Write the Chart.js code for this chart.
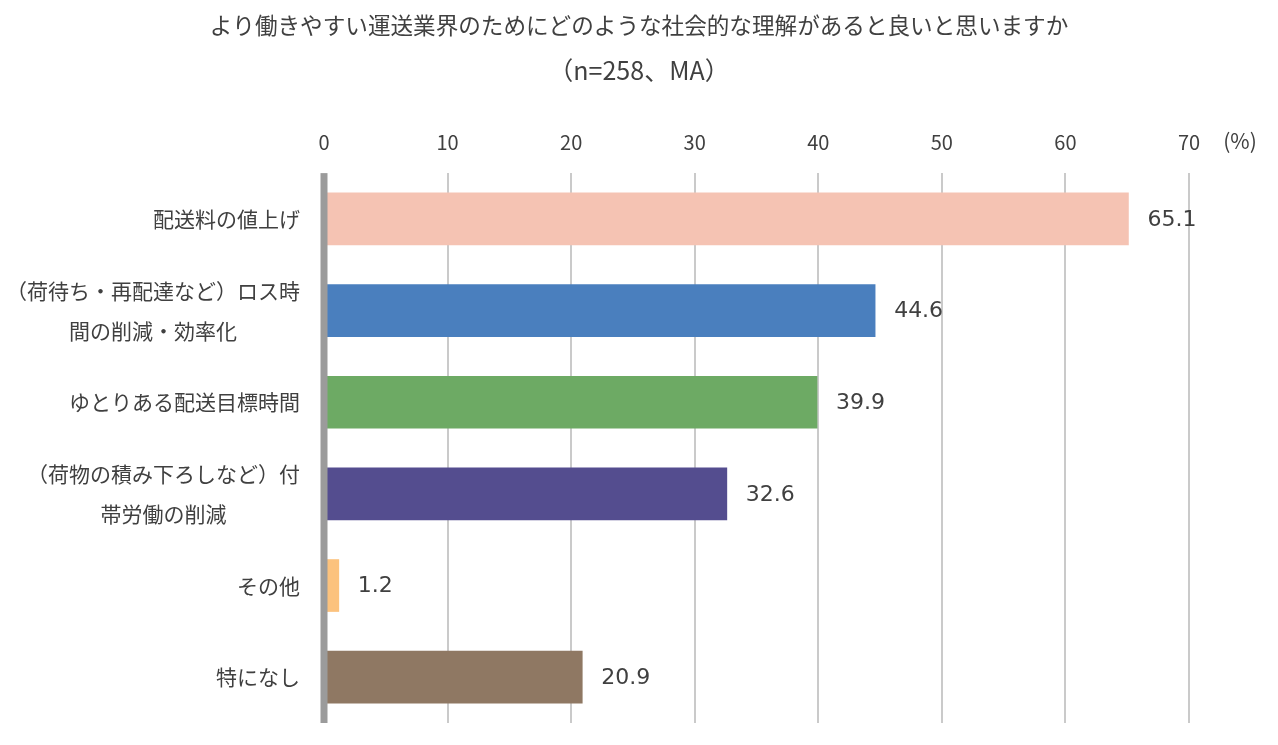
<!DOCTYPE html>
<html lang="ja">
<head>
<meta charset="utf-8">
<title>より働きやすい運送業界のために</title>
<script src="https://cdn.jsdelivr.net/npm/chart.js@4.4.1/dist/chart.umd.min.js"></script>
<style>
  html, body { margin: 0; padding: 0; background: #fff; }
</style>
</head>
<body>
<canvas id="chart" width="1278" height="745"></canvas>
<script>
// データ
const categories = [
  '配送料の値上げ',
  ['（荷待ち・再配達など）ロス時', '間の削減・効率化'],
  'ゆとりある配送目標時間',
  ['（荷物の積み下ろしなど）付', '帯労働の削減'],
  'その他',
  '特になし'
];
const values = [65.1, 44.6, 39.9, 32.6, 1.2, 20.9];
const xTickValues = [0, 10, 20, 30, 40, 50, 60, 70];
const titleText = 'より働きやすい運送業界のためにどのような社会的な理解があると良いと思いますか';
const subtitleText = '（n=258、MA）';
const unitLabel = '(%)';

const barColors = ['#F5C3B3', '#4A7FBE', '#6DAA64', '#544D8F', '#FCC27D', '#8F7863'];
const textColor = '#404040';
const jpFont = '"Noto Sans CJK JP", "Noto Sans", sans-serif';

// 左側のカテゴリ名（複数行は中央揃え、ブロックは右揃え）
const yLabelPlugin = {
  id: 'yLabels',
  afterDraw(chart) {
    const ctx = chart.ctx;
    const yScale = chart.scales.y;
    const right = chart.chartArea.left - 24;
    ctx.save();
    ctx.font = '21px ' + jpFont;
    ctx.fillStyle = textColor;
    ctx.textAlign = 'center';
    ctx.textBaseline = 'middle';
    categories.forEach((label, i) => {
      const lines = Array.isArray(label) ? label : [label];
      const widest = Math.max(...lines.map(l => ctx.measureText(l).width));
      const yc = yScale.getPixelForTick(i);
      lines.forEach((line, j) => {
        ctx.fillText(line, right - widest / 2, yc + (j - (lines.length - 1) / 2) * 40);
      });
    });
    ctx.restore();
  }
};

// 0の軸線と数値ラベル
const overlayPlugin = {
  id: 'overlay',
  afterDatasetsDraw(chart) {
    const ctx = chart.ctx;
    const area = chart.chartArea;
    const xScale = chart.scales.x;
    const x0 = xScale.getPixelForValue(0);
    ctx.save();
    ctx.fillStyle = '#9b9b9b';
    ctx.fillRect(x0 - 3.5, area.top, 7, area.bottom - area.top);

    ctx.font = '22px "DejaVu Sans", sans-serif';
    ctx.fillStyle = textColor;
    ctx.textAlign = 'left';
    ctx.textBaseline = 'middle';
    const meta = chart.getDatasetMeta(0);
    meta.data.forEach((bar, i) => {
      ctx.fillText(values[i].toFixed(1), bar.x + 19, bar.y + 1);
    });

    ctx.font = '21px ' + jpFont;
    ctx.textAlign = 'center';
    ctx.fillText(unitLabel, xScale.right + 51, 141);
    ctx.restore();
  }
};

new Chart(document.getElementById('chart'), {
  type: 'bar',
  data: {
    labels: categories,
    datasets: [{
      data: values,
      backgroundColor: barColors,
      borderWidth: 0,
      barThickness: 52
    }]
  },
  options: {
    indexAxis: 'y',
    responsive: false,
    animation: false,
    devicePixelRatio: 1,
    layout: { padding: { left: 89, right: 89, top: 0, bottom: 22 } },
    plugins: {
      legend: { display: false },
      tooltip: { enabled: false },
      title: {
        display: true,
        text: titleText,
        color: textColor,
        font: { family: jpFont, size: 22.6, weight: 'normal', lineHeight: 1.2 },
        padding: { top: 11.5, bottom: 10 }
      },
      subtitle: {
        display: true,
        text: subtitleText,
        color: textColor,
        font: { family: jpFont, size: 25, weight: 'normal', lineHeight: 1.2 },
        padding: { top: 6.5, bottom: 27.2 }
      }
    },
    scales: {
      x: {
        position: 'top',
        min: 0,
        max: 70,
        afterBuildTicks(scale) {
          scale.ticks = xTickValues.map(v => ({ value: v }));
        },
        afterFit(scale) { scale.height = 60.8; },
        ticks: {
          color: textColor,
          padding: 19,
          font: { family: jpFont, size: 20 }
        },
        grid: {
          drawTicks: false,
          color: ctx => (ctx.tick && ctx.tick.value === 0) ? 'rgba(0,0,0,0)' : '#cacaca',
          lineWidth: 2
        },
        border: { display: false }
      },
      y: {
        afterFit(scale) { scale.width = 235; },
        ticks: { display: false },
        grid: { display: false },
        border: { display: false }
      }
    }
  },
  plugins: [yLabelPlugin, overlayPlugin]
});
</script>
</body>
</html>
